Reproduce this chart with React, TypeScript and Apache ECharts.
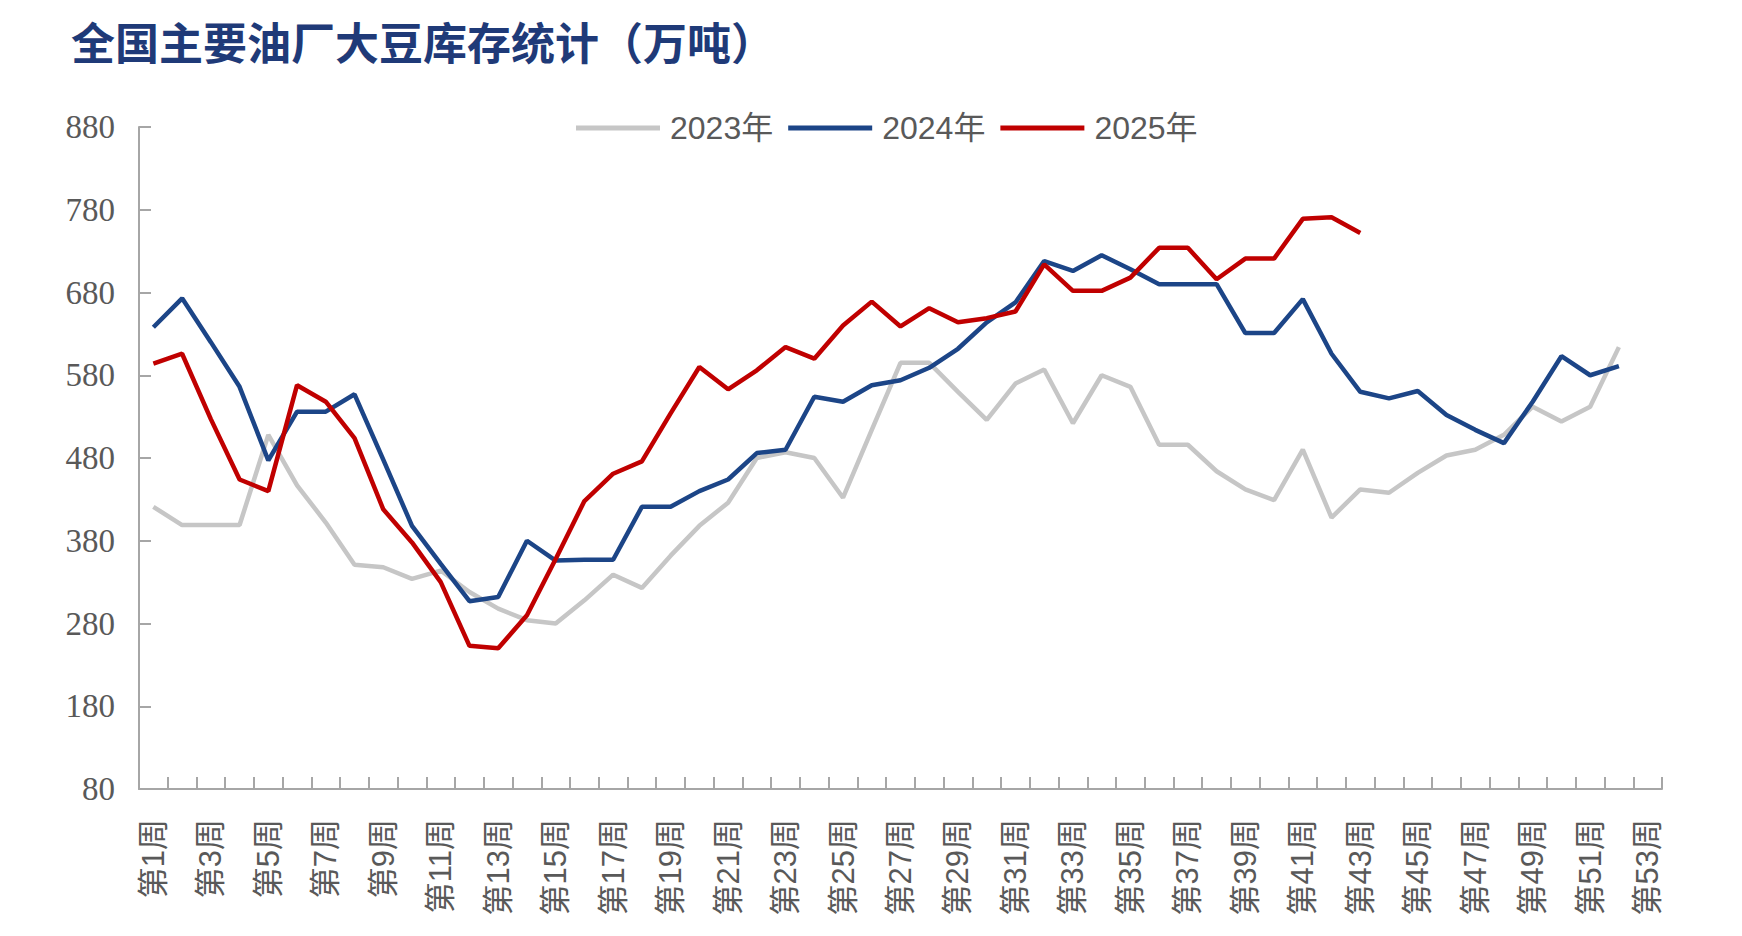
import React, { useEffect, useRef } from "react";
import * as echarts from "echarts";

const weeks: string[] = Array.from({ length: 53 }, (_, i) => `第${i + 1}周`);

const yAxisTicks = { min: 80, max: 880, interval: 100 };

const series2023: (number | null)[] = [
  421, 399, 399, 399, 508, 447, 402, 351, 348, 334,
  344, 318, 298, 284, 280, 308, 339, 323, 362, 398,
  426, 480, 487, 480, 432, 514, 595, 595, 560, 526,
  570, 587, 522, 580, 566, 496, 496, 464, 442, 429,
  490, 408, 442, 438, 462, 483, 490, 508, 542, 524,
  542, 614,
];

const series2024: (number | null)[] = [
  638, 673, 620, 566, 477, 536, 536, 557, 478, 398,
  352, 307, 312, 380, 356, 357, 357, 421, 421, 440,
  454, 486, 490, 554, 548, 568, 574, 589, 612, 644,
  668, 718, 706, 725, 708, 690, 690, 690, 631, 631,
  672, 606, 560, 552, 561, 532, 514, 498, 548, 603,
  580, 591,
];

const series2025: (number | null)[] = [
  594, 606, 527, 454, 440, 568, 548, 504, 418, 378,
  330, 253, 250, 290, 358, 428, 461, 476, 534, 590,
  563, 586, 614, 600, 640, 669, 639, 661, 644, 649,
  657, 714, 682, 682, 698, 734, 734, 696, 721, 721,
  769, 771, 752,
];

const seriesNames = ["2023年", "2024年", "2025年"];
const seriesColors = ["#c6c6c6", "#1c4587", "#c00000"];

export default function App() {
  const ref = useRef<HTMLDivElement>(null);

  useEffect(() => {
    document.body.style.margin = "0";
    if (!ref.current) return;
    const chart = echarts.init(ref.current, undefined, { renderer: "svg" });
    const axisGray = "#a6a6a6";
    const textGray = "#595959";
    const datasets = [series2023, series2024, series2025];
    chart.setOption({
      animation: false,
      backgroundColor: "#ffffff",
      title: {
        text: "全国主要油厂大豆库存统计（万吨）",
        left: 66,
        top: 14,
        textStyle: {
          fontSize: 44,
          fontWeight: "bold",
          color: "#1f3a78",
          fontFamily: "Noto Sans CJK SC",
        },
      },
      legend: {
        left: 571,
        top: 107,
        icon: "rect",
        itemWidth: 84,
        itemHeight: 5,
        itemGap: 15,
        data: seriesNames,
        textStyle: {
          fontSize: 32,
          color: textGray,
          fontFamily: "Liberation Sans, Noto Sans CJK SC",
          padding: [0, 0, 0, 5],
        },
      },
      grid: {
        left: 139,
        right: 80,
        top: 127,
        bottom: 147,
        containLabel: false,
      },
      xAxis: {
        type: "category",
        data: weeks,
        boundaryGap: true,
        axisLine: { show: true, lineStyle: { color: axisGray, width: 2 } },
        axisTick: {
          show: true,
          inside: true,
          interval: 0,
          length: 12,
          lineStyle: { color: axisGray, width: 2 },
        },
        axisLabel: {
          interval: 1,
          rotate: 90,
          fontSize: 31,
          color: textGray,
          margin: 30,
          fontFamily: "Liberation Sans, Noto Sans CJK SC",
        },
        splitLine: { show: false },
      },
      yAxis: {
        type: "value",
        min: yAxisTicks.min,
        max: yAxisTicks.max,
        interval: yAxisTicks.interval,
        axisLine: { show: true, lineStyle: { color: axisGray, width: 2 } },
        axisTick: {
          show: true,
          inside: true,
          length: 12,
          lineStyle: { color: axisGray, width: 2 },
        },
        axisLabel: {
          fontSize: 33,
          color: textGray,
          margin: 24,
          fontFamily: "Liberation Serif",
        },
        splitLine: { show: false },
      },
      series: seriesNames.map((name, i) => ({
        name,
        type: "line",
        data: datasets[i],
        symbol: "none",
        connectNulls: false,
        lineStyle: { width: 4.5, color: seriesColors[i] },
        itemStyle: { color: seriesColors[i] },
        z: 2 + i,
      })),
    });
    return () => {
      chart.dispose();
    };
  }, []);

  return <div ref={ref} style={{ width: 1742, height: 936 }} />;
}
